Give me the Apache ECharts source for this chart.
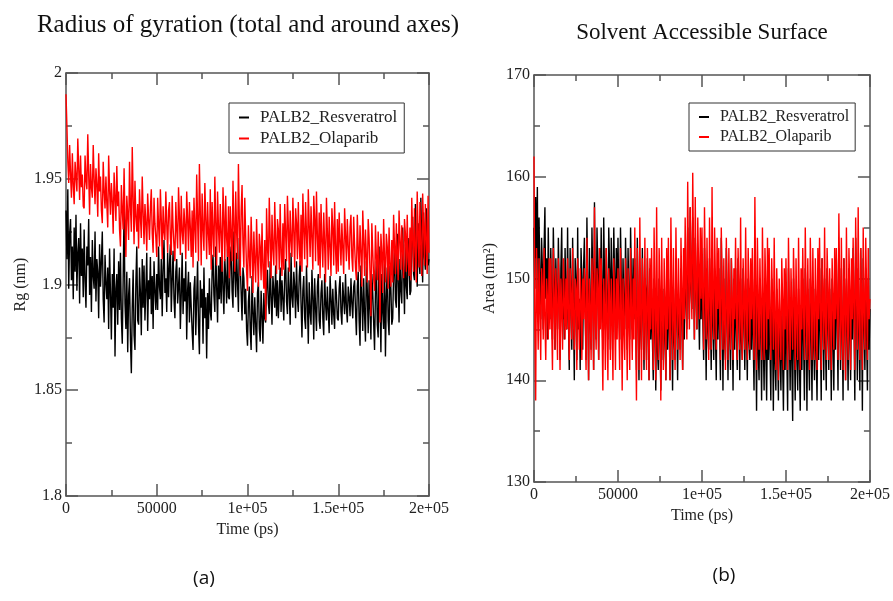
<!DOCTYPE html>
<html>
<head>
<meta charset="utf-8">
<script src="https://cdn.jsdelivr.net/npm/echarts@6/dist/echarts.min.js"></script>
<style>
  html, body { margin: 0; padding: 0; background: #fff; }
  #chart { width: 893px; height: 601px; }
</style>
</head>
<body>
<div id="chart"></div>
<script>
// sampled every 500 ps, 0 .. 200000 ps
const times = Array.from({ length: 401 }, (_, i) => i * 500);
const seriesNames = ['PALB2_Resveratrol', 'PALB2_Olaparib'];

// Radius of gyration (nm); one row = 10 ns
const rgResveratrol = [
  1.935,1.912,1.945,1.898,1.924,1.931,1.902,1.918,1.893,1.927,1.906,1.933,1.897,1.915,1.922,1.891,1.929,1.904,1.917,1.894,
  1.926,1.902,1.889,1.918,1.909,1.931,1.895,1.913,1.887,1.921,1.904,1.898,1.925,1.892,1.912,1.906,1.884,1.919,1.899,1.911,
  1.925,1.893,1.882,1.914,1.901,1.893,1.908,1.879,1.917,1.896,1.874,1.905,1.889,1.917,1.866,1.898,1.905,1.881,1.911,1.888,
  1.915,1.884,1.872,1.903,1.935,1.891,1.879,1.906,1.868,1.895,1.903,1.874,1.858,1.889,1.907,1.876,1.869,1.901,1.918,1.883,
  1.881,1.908,1.896,1.876,1.912,1.889,1.909,1.883,1.898,1.915,1.878,1.902,1.893,1.913,1.886,1.904,1.879,1.911,1.897,1.888,
  1.905,1.888,1.918,1.899,1.893,1.912,1.885,1.908,1.921,1.896,1.903,1.887,1.915,1.894,1.909,1.919,1.887,1.902,1.916,1.893,
  1.884,1.906,1.912,1.891,1.899,1.908,1.879,1.895,1.915,1.886,1.903,1.892,1.911,1.874,1.897,1.906,1.882,1.901,1.889,1.878,
  1.869,1.898,1.904,1.876,1.893,1.911,1.881,1.867,1.902,1.889,1.898,1.872,1.908,1.884,1.894,1.865,1.896,1.879,1.903,1.887,
  1.883,1.906,1.914,1.895,1.887,1.918,1.899,1.882,1.909,1.893,1.913,1.891,1.921,1.898,1.886,1.912,1.903,1.891,1.917,1.894,
  1.893,1.912,1.918,1.897,1.889,1.925,1.906,1.894,1.915,1.901,1.887,1.922,1.909,1.896,1.883,1.908,1.903,1.886,1.898,1.879,
  1.871,1.892,1.899,1.878,1.869,1.904,1.887,1.876,1.894,1.881,1.868,1.896,1.901,1.879,1.873,1.897,1.885,1.872,1.896,1.884,
  1.882,1.899,1.907,1.891,1.886,1.911,1.894,1.881,1.904,1.897,1.889,1.909,1.885,1.902,1.884,1.896,1.908,1.887,1.902,1.893,
  1.883,1.905,1.912,1.892,1.886,1.908,1.897,1.881,1.915,1.894,1.889,1.906,1.899,1.884,1.911,1.893,1.887,1.904,1.911,1.891,
  1.875,1.897,1.904,1.884,1.879,1.909,1.892,1.872,1.901,1.887,1.881,1.907,1.894,1.874,1.903,1.889,1.878,1.899,1.905,1.883,
  1.879,1.896,1.902,1.884,1.876,1.905,1.891,1.883,1.899,1.887,1.877,1.904,1.893,1.881,1.898,1.886,1.879,1.902,1.895,1.884,
  1.883,1.898,1.904,1.887,1.881,1.901,1.893,1.886,1.905,1.889,1.882,1.899,1.894,1.885,1.903,1.891,1.884,1.899,1.902,1.888,
  1.876,1.899,1.906,1.883,1.871,1.909,1.894,1.878,1.903,1.886,1.873,1.911,1.897,1.877,1.902,1.889,1.874,1.905,1.896,1.882,
  1.869,1.897,1.911,1.881,1.875,1.918,1.893,1.868,1.905,1.887,1.879,1.912,1.866,1.894,1.908,1.883,1.876,1.909,1.898,1.881,
  1.884,1.905,1.917,1.893,1.889,1.924,1.902,1.882,1.912,1.897,1.891,1.927,1.906,1.886,1.919,1.899,1.893,1.922,1.911,1.895,
  1.897,1.921,1.932,1.905,1.902,1.938,1.914,1.899,1.929,1.911,1.905,1.941,1.919,1.901,1.934,1.913,1.907,1.936,1.924,1.909,
  1.912
];
const rgOlaparib = [
  1.990,1.975,1.958,1.948,1.966,1.952,1.941,1.962,1.947,1.938,1.958,1.951,1.944,1.969,1.955,1.940,1.961,1.946,1.952,1.937,
  1.936,1.961,1.949,1.945,1.971,1.952,1.933,1.957,1.946,1.941,1.966,1.950,1.938,1.955,1.947,1.932,1.962,1.944,1.951,1.935,
  1.929,1.958,1.944,1.936,1.951,1.938,1.927,1.961,1.945,1.933,1.948,1.939,1.924,1.953,1.941,1.930,1.956,1.937,1.944,1.926,
  1.918,1.947,1.935,1.926,1.955,1.931,1.913,1.942,1.933,1.921,1.958,1.937,1.925,1.965,1.941,1.919,1.949,1.932,1.925,1.938,
  1.917,1.945,1.932,1.922,1.951,1.934,1.919,1.938,1.929,1.916,1.943,1.931,1.921,1.936,1.945,1.924,1.915,1.941,1.929,1.922,
  1.913,1.941,1.928,1.918,1.945,1.931,1.912,1.937,1.925,1.921,1.944,1.929,1.915,1.935,1.939,1.922,1.914,1.942,1.927,1.918,
  1.911,1.939,1.926,1.917,1.946,1.932,1.914,1.942,1.925,1.919,1.936,1.928,1.912,1.944,1.931,1.916,1.939,1.927,1.913,1.935,
  1.908,1.941,1.927,1.915,1.952,1.931,1.911,1.957,1.934,1.909,1.943,1.926,1.916,1.948,1.931,1.912,1.939,1.924,1.914,1.945,
  1.907,1.939,1.925,1.913,1.951,1.929,1.909,1.944,1.927,1.915,1.938,1.924,1.906,1.946,1.931,1.911,1.942,1.922,1.913,1.937,
  1.903,1.937,1.924,1.911,1.949,1.928,1.906,1.944,1.925,1.912,1.957,1.931,1.904,1.935,1.947,1.919,1.908,1.941,1.923,1.906,
  1.897,1.928,1.914,1.903,1.932,1.917,1.896,1.925,1.911,1.901,1.931,1.913,1.899,1.924,1.918,1.902,1.929,1.908,1.898,1.921,
  1.883,1.936,1.918,1.908,1.941,1.922,1.903,1.933,1.917,1.909,1.939,1.921,1.905,1.931,1.926,1.907,1.938,1.915,1.904,1.929,
  1.907,1.938,1.924,1.911,1.942,1.927,1.906,1.935,1.921,1.913,1.941,1.925,1.908,1.936,1.929,1.912,1.939,1.919,1.909,1.933,
  1.906,1.943,1.926,1.912,1.939,1.924,1.908,1.945,1.928,1.913,1.937,1.922,1.907,1.942,1.931,1.911,1.944,1.923,1.909,1.934,
  1.903,1.938,1.921,1.908,1.934,1.919,1.901,1.941,1.925,1.907,1.932,1.918,1.904,1.936,1.927,1.909,1.939,1.917,1.905,1.931,
  1.906,1.934,1.921,1.909,1.929,1.917,1.905,1.936,1.923,1.911,1.931,1.918,1.907,1.927,1.933,1.913,1.906,1.932,1.919,1.908,
  1.902,1.933,1.917,1.906,1.928,1.915,1.899,1.935,1.921,1.904,1.926,1.913,1.901,1.931,1.922,1.905,1.885,1.929,1.916,1.903,
  1.897,1.928,1.913,1.902,1.925,1.911,1.882,1.924,1.915,1.896,1.931,1.912,1.901,1.924,1.918,1.898,1.927,1.909,1.899,1.921,
  1.901,1.933,1.918,1.905,1.929,1.914,1.902,1.935,1.921,1.907,1.928,1.915,1.903,1.931,1.924,1.906,1.933,1.913,1.904,1.927,
  1.902,1.941,1.922,1.906,1.936,1.918,1.901,1.944,1.925,1.908,1.939,1.917,1.904,1.943,1.928,1.909,1.938,1.921,1.905,1.942,
  1.915
];

// Solvent accessible surface area (nm^2); one row = 10 ns
const sasResveratrol = [
  155,149,158,152,159,147,156,150,146,154,151,145,153,157,148,152,144,155,149,146,
  153,147,144,155,150,143,152,148,145,154,149,142,151,155,146,150,144,153,148,145,
  155,146,141,153,149,143,154,147,140,152,150,142,155,145,148,141,153,150,143,151,
  154,147,142,156,149,140,153,146,143,155,150,141,157.5,148,144,155,151,142,153,146,
  155,148,143,156,150,145,153,147,144,155,151,143,154,149,146,155,150,144,153,147,
  154,148,144,155,150,143,152,147,145,154,149,143,153,148,144,155,150,145,152,146,
  152,146,141,154,148,140,151,145,143,153,147,141,150,149,142,152,146,140,151,144,
  149,144,140,150,146,139,148,143,141,150,145,139,147,146,142,149,144,140,148,143,
  150,145,140,151,146,139,149,144,142,152,147,140,148,145,143,151,146,141,149,144,
  152,148,145,155,150,146,157,149,147,156,151,144,154,149,145,153,148,143,151,146,
  152,146,142,153,148,140,151,145,143,152,147,141,150,146,142,151,145,140,149,144,
  151,145,140,154,148,139,150,144,142,153,147,140,149,145,141,152,146,139,150,143,
  151,145,141,152,147,140,150,144,142,151,146,141,149,145,140,150,144,142,148,143,
  150,144,139,151,146,137,149,143,140,150,145,138,148,144,139,149,143,138,147,142,
  149,143,138,150,145,137,148,142,139,149,144,138,147,143,139,148,142,137,146,141,
  149,143,137,151,145,139,148,142,136,150,144,138,147,143,139,149,142,137,146,141,
  150,144,138,151,146,137,149,143,139,150,145,138,148,144,140,149,143,138,147,142,
  151,145,138,152,147,140,150,144,139,151,146,141,149,145,138,150,144,139,148,143,
  152,146,139,153,148,141,151,145,138,152,147,140,150,146,139,151,145,140,149,144,
  153,146,138,154,148,140,151,145,139,153,147,137,152,146,141,151,145,139,150,143,
  147
];
const sasOlaparib = [
  162,145,138,153,148,143,152,147,142,151,149,144,153,146,142,150,148,144,152,145,
  152,146,141,153,148,143,151,147,142,152,149,141,150,147,143,152,148,144,150,145,
  152,147,142,151,148,144,153,146,143,150,149,141,152,147,143,151,148,142,150,146,
  151,146,141,154,148,140,150,147,142,152,148,141,157,146,143,151,149,142,153,145,
  152,145,139,150,147,141,153,146,140,151,148,142,150,146,140,152,147,141,150,144,
  151,146,141,153,147,139,150,145,142,152,148,140,151,146,141,153,147,142,150,144,
  155,146,138,153,148,141,156,147,140,152,149,142,154,146,141,153,148,140,152,145,
  153,147,141,155,148,140,157,146,142,153,149,138,154,147,141,152,148,140,153,145,
  154,147,140,156,149,142,153,146,141,155,148,143,152,147,142,154,149,141,153,146,
  156,149,144,159.5,151,145,157,150,146,160.4,152,144,158,149,145,156,151,146,155,148,
  155,148,143,157,150,144,154,147,142,156,149,143,159,148,144,155,150,143,154,147,
  153,147,142,155,149,143,152,146,141,154,148,142,153,147,143,152,148,142,151,146,
  154,147,142,153,149,143,156,146,142,152,148,143,155,147,142,153,149,143,152,146,
  153,147,142,158,149,141,154,148,143,152,147,142,155,148,142,153,149,143,154,146,
  153,146,142,152,148,143,154,146,141,151,147,140,150,146,142,152,148,141,151,145,
  152,146,141,154,148,142,151,147,143,153,148,141,152,146,142,154,147,141,151,145,
  153,147,142,155,148,142,152,146,141,154,149,142,153,147,142,152,148,141,153,146,
  154,147,141,152,148,143,155,146,142,153,149,142,151,147,141,152,148,143,153,146,
  153,147,142,156.4,149,142,154,146,141,152,148,140,155,147,142,153,149,141,152,146,
  154,147,141,156,149,143,157,146,142,153,148,141,155,147,143,154,149,142,153,146,
  148
];

const timeTicks = ['0', '50000', '1e+05', '1.5e+05', '2e+05'];
const rgTicks = ['1.8', '1.85', '1.9', '1.95', '2'];
const sasTicks = ['130', '140', '150', '160', '170'];

const serif = "'Liberation Serif', 'DejaVu Serif', serif";
const axisColor = '#555';

function pairs(ys) {
  return ys.map((y, i) => [times[i], y]);
}

function axisBase(extra) {
  return Object.assign({
    type: 'value',
    axisLine: { show: true, onZero: false, lineStyle: { color: axisColor, width: 1.5 } },
    axisTick: { show: true, inside: true, length: 12, lineStyle: { color: axisColor, width: 1.5 } },
    minorTick: { show: true, splitNumber: 2, length: 6, lineStyle: { color: axisColor, width: 1.5 } },
    splitLine: { show: false },
    minorSplitLine: { show: false }
  }, extra);
}

function xAxes(gridIndex, gap) {
  return [
    axisBase({
      gridIndex, min: 0, max: 200000, interval: 50000, position: 'bottom',
      name: 'Time (ps)', nameLocation: 'middle', nameGap: gap,
      nameTextStyle: { fontFamily: serif, fontSize: 16, color: '#222' },
      axisLabel: { fontFamily: serif, fontSize: 16, color: '#222', margin: 5,
        formatter: v => timeTicks[Math.round(v / 50000)] }
    }),
    axisBase({ gridIndex, min: 0, max: 200000, interval: 50000, position: 'top', axisLabel: { show: false } })
  ];
}

function yAxes(gridIndex, min, max, interval, ticks, name, gap) {
  return [
    axisBase({
      gridIndex, min, max, interval, position: 'left',
      name, nameLocation: 'middle', nameGap: gap,
      nameTextStyle: { fontFamily: serif, fontSize: 16, color: '#222' },
      axisLabel: { fontFamily: serif, fontSize: 16, color: '#222', margin: 4,
        formatter: v => ticks[Math.round((v - min) / interval)] }
    }),
    axisBase({ gridIndex, min, max, interval, position: 'right', axisLabel: { show: false } })
  ];
}

function legendAt(left, top, fontSize, padRight) {
  return {
    data: seriesNames, left, top, orient: 'vertical',
    backgroundColor: '#fff', borderColor: '#333', borderWidth: 1,
    padding: [6, padRight, 6, 10], itemGap: 4,
    icon: 'rect', itemWidth: 10, itemHeight: 2,
    textStyle: { fontFamily: serif, fontSize, color: '#222', padding: [0, 0, 0, 6] },
    selectedMode: false
  };
}

function line(name, xi, yi, data, color) {
  return {
    name, type: 'line', xAxisIndex: xi, yAxisIndex: yi, data: pairs(data),
    showSymbol: false, symbol: 'none', lineStyle: { color, width: 1.4 }, itemStyle: { color }
  };
}

const chart = echarts.init(document.getElementById('chart'));
chart.setOption({
  animation: false,
  backgroundColor: '#fff',
  grid: [
    { left: 66, top: 73, width: 363, height: 423 },
    { left: 534, top: 75, width: 336, height: 407 }
  ],
  xAxis: [...xAxes(0, 26), ...xAxes(1, 24)],
  yAxis: [
    ...yAxes(0, 1.8, 2, 0.05, rgTicks, 'Rg (nm)', 37),
    ...yAxes(1, 130, 170, 10, sasTicks, 'Area (nm²)', 36)
  ],
  legend: [legendAt(229, 103, 17, 7), legendAt(689, 103, 16, 6)],
  series: [
    line(seriesNames[0], 0, 0, rgResveratrol, '#000'),
    line(seriesNames[1], 0, 0, rgOlaparib, '#ff0000'),
    line(seriesNames[0], 2, 2, sasResveratrol, '#000'),
    line(seriesNames[1], 2, 2, sasOlaparib, '#ff0000')
  ],
  graphic: [
    { type: 'text', x: 248, y: 25, style: { text: 'Radius of gyration (total and around axes)', font: '25px ' + serif, fill: '#111', align: 'center', verticalAlign: 'middle' } },
    { type: 'text', x: 702, y: 33, style: { text: 'Solvent Accessible Surface', font: '23px ' + serif, fill: '#111', align: 'center', verticalAlign: 'middle' } },
    { type: 'text', x: 204, y: 579, style: { text: '(a)', font: "19px 'Open Sans', 'Noto Sans', sans-serif", fill: '#111', align: 'center', verticalAlign: 'middle' } },
    { type: 'text', x: 724, y: 576, style: { text: '(b)', font: "19px 'Open Sans', 'Noto Sans', sans-serif", fill: '#111', align: 'center', verticalAlign: 'middle' } }
  ]
});
</script>
</body>
</html>
